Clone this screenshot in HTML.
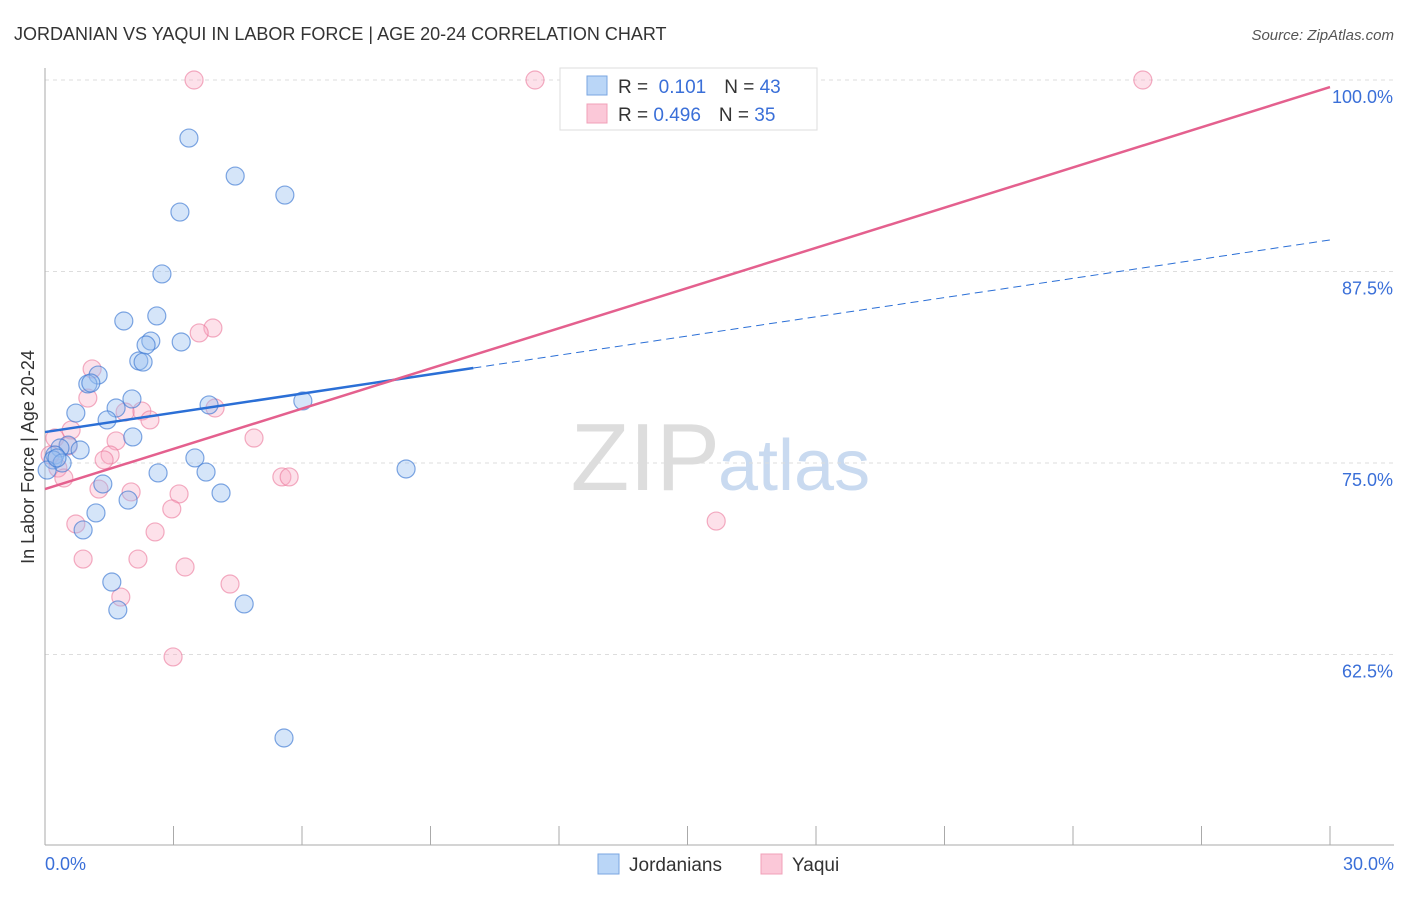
<!DOCTYPE html>
<html><head><meta charset="utf-8"><style>
body{margin:0;background:#fff;font-family:"Liberation Sans",sans-serif}
svg text{font-family:"Liberation Sans",sans-serif}
</style></head><body>
<svg width="1406" height="892">
<text x="14" y="40" font-size="18" fill="#333">JORDANIAN VS YAQUI IN LABOR FORCE | AGE 20-24 CORRELATION CHART</text>
<text x="1394" y="40" font-size="15" fill="#555" text-anchor="end" font-style="italic">Source: ZipAtlas.com</text>
<text x="720" y="490" font-size="96" fill="#ddd" text-anchor="end" font-family="Liberation Serif">ZIP</text>
<text x="718" y="490" font-size="72" fill="#c9daf0">atlas</text>
<g id="grid"></g><g id="axes"></g><g id="marks"></g>
<text transform="translate(34,457) rotate(-90)" font-size="18" fill="#333" text-anchor="middle">In Labor Force | Age 20-24</text>
<g>
<rect x="560" y="68" width="257" height="62" fill="#fff" stroke="#ddd"/>
<rect x="587" y="76" width="20" height="19" fill="#bad6f7" stroke="#7aa6e0"/>
<rect x="587" y="104" width="20" height="19" fill="#fbc8d8" stroke="#f0a0b8"/>
<text x="618" y="93" font-size="19" fill="#333">R = <tspan fill="#3a6fd8">&#160;0.101</tspan><tspan dx="18">N = </tspan><tspan fill="#3a6fd8">43</tspan></text>
<text x="618" y="121" font-size="19" fill="#333">R = <tspan fill="#3a6fd8">0.496</tspan><tspan dx="18">N = </tspan><tspan fill="#3a6fd8">35</tspan></text>
</g>
<g>
<rect x="598" y="854" width="21" height="20" fill="#bad6f7" stroke="#7aa6e0"/>
<text x="629" y="871" font-size="19" fill="#333">Jordanians</text>
<rect x="761" y="854" width="21" height="20" fill="#fbc8d8" stroke="#f0a0b8"/>
<text x="792" y="871" font-size="19" fill="#333">Yaqui</text>
</g>
</svg>
<script>
const yTicks=[100,87.5,75,62.5];
const yTickLabels=["100.0%","87.5%","75.0%","62.5%"];
const xTickLabels=["0.0%","30.0%"];
const blueX=[3.36,4.44,5.60,3.15,2.73,1.84,2.61,2.47,3.18,2.36,2.19,2.29,1.24,1.00,1.07,2.03,6.02,3.83,1.66,0.72,1.45,2.05,0.54,0.82,0.35,0.23,0.19,0.40,3.50,8.43,2.64,3.76,1.35,4.11,1.94,1.19,0.89,1.56,1.70,4.65,5.58,0.05,0.28];
const blueY=[96.21,93.73,92.49,91.38,87.34,84.27,84.60,82.96,82.90,82.70,81.66,81.59,80.74,80.16,80.22,79.18,79.05,78.79,78.59,78.26,77.81,76.70,76.17,75.85,75.98,75.52,75.20,75.00,75.33,74.61,74.35,74.41,73.63,73.04,72.58,71.74,70.63,67.23,65.41,65.80,57.05,74.54,75.33];
const pinkX=[3.48,11.44,25.63,3.92,3.60,1.10,1.00,2.26,1.87,3.97,2.45,0.61,0.23,4.88,1.66,0.54,1.52,1.38,0.30,0.44,5.53,5.70,1.26,2.01,3.13,2.96,15.67,0.72,2.57,0.89,2.17,3.27,4.32,1.77,2.99,0.12];
const pinkY=[100,100,100,83.81,83.49,81.14,79.24,78.39,78.33,78.59,77.81,77.15,76.63,76.63,76.44,76.11,75.52,75.20,74.67,74.02,74.09,74.09,73.30,73.11,72.98,72.00,71.21,71.02,70.50,68.73,68.73,68.21,67.10,66.25,62.34,75.52];
const blueLine=[77.02,89.56]; const blueSolidEnd=10;
const pinkLine=[73.30,99.54];
const NS="http://www.w3.org/2000/svg";
const X=v=>45+v/30*1285, Y=v=>80+(100-v)/12.5*191.5;
function mk(p,t,a){const e=document.createElementNS(NS,t);for(const k in a)e.setAttribute(k,a[k]);p.appendChild(e);return e;}
const grid=document.getElementById('grid'),axes=document.getElementById('axes'),marks=document.getElementById('marks');
yTicks.forEach((t,i)=>{
 const l=mk(grid,'line',{x1:45,x2:1394,y1:Y(t),y2:Y(t),stroke:'#ddd','stroke-dasharray':'4,4'});
 
 
 const tx=mk(axes,'text',{x:1393,y:Y(t)+23,'font-size':18,fill:'#3a6fd8','text-anchor':'end'});tx.textContent=yTickLabels[i];
 
 
});
mk(axes,'line',{x1:45,x2:45,y1:68,y2:845,stroke:'#aaa'});
mk(axes,'line',{x1:45,x2:1394,y1:845,y2:845,stroke:'#aaa'});
for(let i=1;i<=10;i++){mk(axes,'line',{x1:X(i*3),x2:X(i*3),y1:826,y2:845,stroke:'#aaa'});}
const xl0=mk(axes,'text',{x:45,y:870,'font-size':18,fill:'#3a6fd8'});xl0.textContent=xTickLabels[0];


const xl1=mk(axes,'text',{x:1394,y:870,'font-size':18,fill:'#3a6fd8','text-anchor':'end'});xl1.textContent=xTickLabels[1];


pinkX.forEach((v,i)=>{const c=mk(marks,'circle',{cx:X(v),cy:Y(pinkY[i]),r:9,fill:'rgba(248,170,195,0.35)',stroke:'rgba(235,120,155,0.6)','stroke-width':1.2});
 
 });
blueX.forEach((v,i)=>{const c=mk(marks,'circle',{cx:X(v),cy:Y(blueY[i]),r:9,fill:'rgba(150,190,240,0.4)',stroke:'rgba(60,120,210,0.65)','stroke-width':1.2});
 
 });
const bAt=x=>blueLine[0]+(blueLine[1]-blueLine[0])*x/30;
const bl=mk(marks,'line',{x1:X(0),y1:Y(bAt(0)),x2:X(blueSolidEnd),y2:Y(bAt(blueSolidEnd)),stroke:'#2b6fd6','stroke-width':2.5});


const bd=mk(marks,'line',{x1:X(blueSolidEnd),y1:Y(bAt(blueSolidEnd)),x2:X(30),y2:Y(bAt(30)),stroke:'#2b6fd6','stroke-width':1,'stroke-dasharray':'8,5'});


const pl=mk(marks,'line',{x1:X(0),y1:Y(pinkLine[0]),x2:X(30),y2:Y(pinkLine[1]),stroke:'#e4608e','stroke-width':2.5});


</script>
</body></html>
